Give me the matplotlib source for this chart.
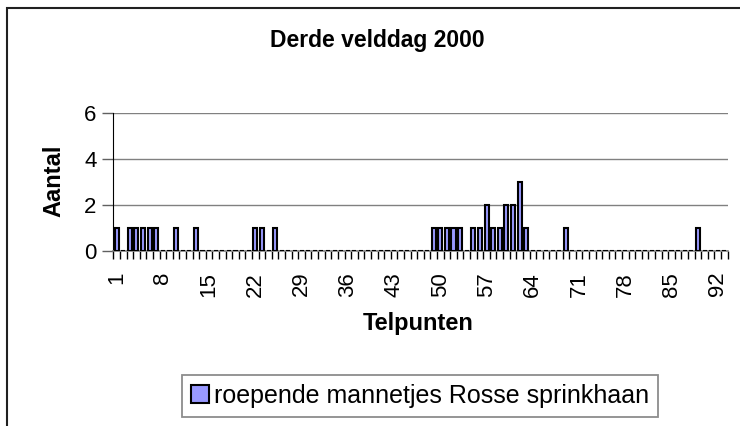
import matplotlib.pyplot as plt
from matplotlib.patches import Rectangle

plt.rcParams['font.family'] = ['Liberation Sans', 'DejaVu Sans']

# telpunten 1..93, aantal roepende mannetjes
telpunten = list(range(1, 94))
gevonden = {1: 1, 3: 1, 4: 1, 5: 1, 6: 1, 7: 1, 10: 1, 13: 1,
            22: 1, 23: 1, 25: 1,
            49: 1, 50: 1, 51: 1, 52: 1, 53: 1, 55: 1, 56: 1, 57: 2,
            58: 1, 59: 1, 60: 2, 61: 2, 62: 3, 63: 1,
            69: 1, 89: 1}
aantal = [gevonden.get(t, 0) for t in telpunten]
tick_labels = [str(t) for t in range(1, 94, 7)]

fig = plt.figure(figsize=(7.4, 4.26), dpi=100)
ax = fig.add_axes([113.3 / 740, 1 - 251 / 426, (727.7 - 113.3) / 740, (251 - 113.3) / 426])

ax.bar(telpunten, aantal, width=0.62, color='#9999ff', edgecolor='black',
       linewidth=1.5, label='roepende mannetjes Rosse sprinkhaan', zorder=3)

ax.set_xlim(0.5, 93.5)
ax.set_ylim(0, 6)
ax.set_yticks([0, 2, 4, 6])
ax.yaxis.grid(True, color='#808080', linewidth=1.0, zorder=0)

# Excel-achtige streepjes tussen de categorieen
ax.set_xticks([t + 0.5 for t in range(0, 94)], minor=True)
ax.set_xticks(list(range(1, 94, 7)))
ax.set_xticklabels(tick_labels, rotation=90)
ax.tick_params(axis='x', which='major', length=0, labelsize=16, pad=15)
ax.tick_params(axis='x', which='minor', length=6, width=1, color='black')
ax.tick_params(axis='y', length=8, width=1, labelsize=16, pad=4, color='#606060')

for side in ['top', 'right']:
    ax.spines[side].set_visible(False)
ax.spines['left'].set_color('black')
ax.spines['bottom'].set_color('#808080')
ax.spines['bottom'].set_linewidth(1.2)

fig.text(377 / 740, 1 - 47 / 426, 'Derde velddag 2000', ha='center', va='baseline',
         fontsize=16.5, fontweight='bold')
fig.text(60 / 740, 1 - 181 / 426, 'Aantal', ha='center', va='baseline',
         rotation=90, fontsize=17, fontweight='bold', rotation_mode='anchor')
fig.text(418 / 740, 1 - 330 / 426, 'Telpunten', ha='center', va='baseline',
         fontsize=17, fontweight='bold')

leg = fig.legend(loc='center', bbox_to_anchor=(420 / 740, 1 - 396 / 426),
                 fontsize=18, frameon=True, fancybox=False, handlelength=0.75,
                 handleheight=0.75, handletextpad=0.2, borderpad=0.35,
                 borderaxespad=0)
leg.get_frame().set_edgecolor('#707070')
leg.get_frame().set_linewidth(1.3)
leg.legend_handles[0].set_linewidth(1.5)

# rand van het grafiekgebied
fig.add_artist(Rectangle((7 / 740, -0.2), 1.2, 1.2 - 8 / 426, transform=fig.transFigure,
                         fill=False, edgecolor='#202020', linewidth=1.5))

fig.savefig('out.png', dpi=100)
